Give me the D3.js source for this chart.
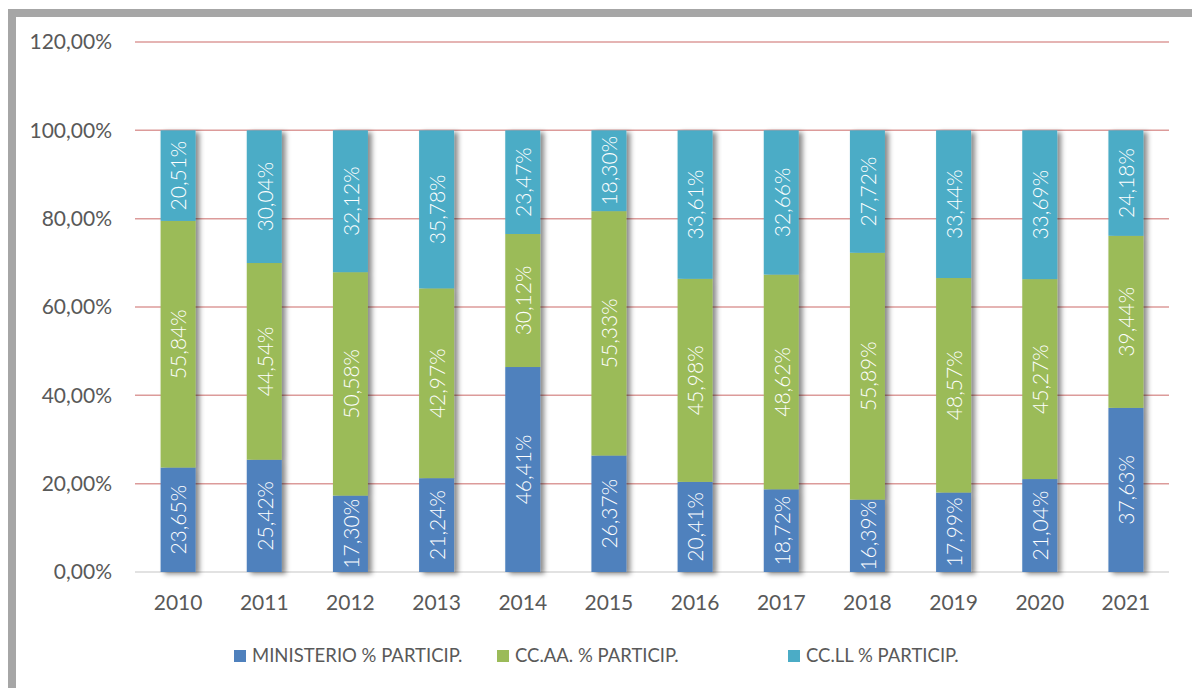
<html>
<head>
<meta charset="utf-8">
<style>
  body { margin: 0; background: #fff; }
  svg { display: block; }
</style>
</head>
<body>
<div id="chart-area"></div>
<script src="https://d3js.org/d3.v7.min.js"></script>
<script>
const W = 1192, H = 688
const PLOT = { LEFT: 135, RIGHT: 1169, TOP: 42, BOTTOM: 572 }

// data (percent)
const years = ["2010","2011","2012","2013","2014","2015","2016","2017","2018","2019","2020","2021"]
const ministerio = [23.65, 25.42, 17.30, 21.24, 46.41, 26.37, 20.41, 18.72, 16.39, 17.99, 21.04, 37.63]
const ccaa = [55.84, 44.54, 50.58, 42.97, 30.12, 55.33, 45.98, 48.62, 55.89, 48.57, 45.27, 39.44]
const ccll = [20.51, 30.04, 32.12, 35.78, 23.47, 18.30, 33.61, 32.66, 27.72, 33.44, 33.69, 24.18]
const seriesNames = ["MINISTERIO % PARTICIP.", "CC.AA. % PARTICIP.", "CC.LL % PARTICIP."]
const yTicks = [0, 0.2, 0.4, 0.6, 0.8, 1.0, 1.2]

const colors = ["#4f81bd", "#9bbb59", "#4bacc6"]
const FONT = "Lato, 'Open Sans', sans-serif"
const fmt = v => d3.format(".2f")(v).replace(".", ",") + "%"

const svg = d3.select("#chart-area").append("svg")
    .attr("width", W).attr("height", H)

// frame
svg.append("rect")
    .attr("x", 12).attr("y", 13)
    .attr("width", W + 20).attr("height", H + 20)
    .attr("fill", "#fff")
    .attr("stroke", "#a6a6a6").attr("stroke-width", 8)

const defs = svg.append("defs")
const f = defs.append("filter").attr("id", "shadow")
    .attr("x", "-30%").attr("y", "-5%").attr("width", "180%").attr("height", "115%")
f.append("feDropShadow").attr("dx", 4).attr("dy", 2).attr("stdDeviation", 2.5)
    .attr("flood-color", "#000").attr("flood-opacity", 0.45)

const x = d3.scaleBand().domain(years)
    .range([PLOT.LEFT, PLOT.RIGHT])
    .paddingInner(0.594).paddingOuter(0.297)

const y = d3.scaleLinear().domain([0, 1.2]).range([PLOT.BOTTOM, PLOT.TOP])

// gridlines
svg.append("g").selectAll("line")
    .data(yTicks).enter().append("line")
    .attr("x1", PLOT.LEFT).attr("x2", PLOT.RIGHT)
    .attr("y1", d => y(d)).attr("y2", d => y(d))
    .attr("stroke", d => d === 0 ? "#d9d9d9" : "#dc9b9a")
    .attr("stroke-width", 1.5)

// y axis labels
const yAxis = d3.axisLeft(y).tickValues(yTicks).tickSize(0).tickPadding(0)
    .tickFormat(d => fmt(d * 100))
svg.append("g")
    .attr("transform", `translate(112, 0)`)
    .call(yAxis)
    .call(g => g.select(".domain").remove())
    .selectAll("text")
        .attr("fill", "#595959")
        .attr("font-size", "21px")
        .attr("font-family", FONT)

// x axis labels
const xAxis = d3.axisBottom(x).tickSize(0).tickPadding(0)
svg.append("g")
    .attr("transform", `translate(0, ${PLOT.BOTTOM + 23})`)
    .call(xAxis)
    .call(g => g.select(".domain").remove())
    .selectAll("text")
        .attr("fill", "#595959")
        .attr("font-size", "21px")
        .attr("font-family", FONT)

// 100% stacked bars
const table = years.map((yr, i) => ({ year: yr, s0: ministerio[i], s1: ccaa[i], s2: ccll[i] }))
const keys = ["s0", "s1", "s2"]
const stack = d3.stack().keys(keys).offset(d3.stackOffsetExpand)(table)

const bars = svg.append("g").attr("filter", "url(#shadow)")
stack.forEach((layer, k) => {
    bars.selectAll(null)
        .data(layer).enter().append("rect")
        .attr("x", d => x(d.data.year))
        .attr("width", x.bandwidth())
        .attr("y", d => y(d[1]))
        .attr("height", d => y(d[0]) - y(d[1]))
        .attr("fill", colors[k])
})

// value labels
const labels = svg.append("g")
stack.forEach((layer, k) => {
    labels.selectAll(null)
        .data(layer).enter().append("text")
        .attr("transform", d => `translate(${x(d.data.year) + x.bandwidth() / 2 + 1}, ${y((d[0] + d[1]) / 2)}) rotate(-90)`)
        .attr("text-anchor", "middle")
        .attr("dy", "0.35em")
        .attr("fill", "#fff")
        .attr("font-size", "21px")
        .attr("font-weight", 300)
        .attr("font-family", FONT)
        .text(d => fmt(d.data[keys[k]]))
})

// legend
const legendX = [234, 497, 788]
const legend = svg.append("g").attr("transform", `translate(0, 656)`)
seriesNames.forEach((name, i) => {
    legend.append("rect")
        .attr("x", legendX[i]).attr("y", -6)
        .attr("width", 12).attr("height", 12)
        .attr("fill", colors[i])
    legend.append("text")
        .attr("x", legendX[i] + 18).attr("y", 0)
        .attr("dy", "0.35em")
        .attr("fill", "#595959")
        .attr("font-size", "18.5px")
        .attr("font-family", FONT)
        .text(name)
})
</script>
</body>
</html>
